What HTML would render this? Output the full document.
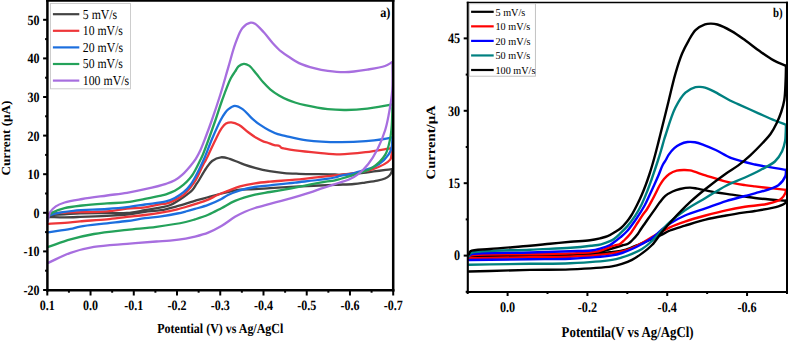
<!DOCTYPE html>
<html><head><meta charset="utf-8"><style>
html,body{margin:0;padding:0;background:#fff;width:788px;height:341px;overflow:hidden}
svg{display:block}
text{font-family:"Liberation Serif", serif;fill:#000;text-rendering:geometricPrecision}
</style></head><body>
<svg width="788" height="341" viewBox="0 0 788 341">
<rect width="788" height="341" fill="#fff"/>
<path d="M48.80,215.20 C54.07,214.90 59.37,214.62 64.60,214.30 C69.77,213.99 74.15,213.51 80.00,213.30 C87.74,213.02 98.67,213.15 107.00,213.10 C114.17,213.06 120.53,213.52 127.00,213.00 C133.18,212.51 139.17,211.18 145.00,210.20 C150.52,209.27 156.48,208.29 161.10,207.30 C164.64,206.55 167.14,206.35 170.40,205.00 C174.54,203.28 179.72,199.70 183.60,197.00 C186.91,194.69 190.23,192.34 192.40,190.00 C194.04,188.24 194.85,186.42 196.00,184.70 C197.08,183.09 197.89,181.93 199.10,180.00 C200.97,177.03 203.65,171.85 206.00,168.50 C208.00,165.65 209.61,162.87 212.10,161.00 C214.58,159.14 217.92,157.64 220.90,157.30 C223.79,156.97 226.45,157.88 229.70,158.80 C234.03,160.02 239.87,163.11 244.40,164.70 C248.19,166.03 251.17,166.89 255.00,167.90 C259.46,169.08 264.70,170.33 269.60,171.20 C274.47,172.06 279.39,172.67 284.30,173.10 C289.19,173.53 293.02,173.60 299.00,173.80 C308.36,174.11 328.49,174.24 335.00,174.50 C337.43,174.60 337.69,174.83 340.00,174.80 C345.27,174.72 357.41,173.44 365.90,172.50 C374.14,171.59 386.39,169.80 390.20,169.30 C391.37,169.15 391.73,169.10 392.50,169.00" fill="none" stroke="#434343" stroke-width="2.3" stroke-linejoin="round" stroke-linecap="round"/>
<path d="M392.50,169.00 C392.20,170.00 392.05,170.99 391.60,172.00 C391.09,173.15 390.48,174.47 389.50,175.50 C388.37,176.68 386.77,177.68 385.00,178.50 C382.86,179.49 380.26,180.07 377.40,180.70 C373.79,181.50 369.02,182.04 365.00,182.60 C361.20,183.13 358.10,183.65 353.90,184.00 C348.44,184.46 342.47,184.46 335.00,184.80 C324.14,185.29 306.77,186.07 295.00,186.70 C285.69,187.20 277.27,187.74 270.00,188.20 C264.36,188.56 260.00,188.95 255.00,189.20 C250.00,189.45 245.82,188.94 240.00,189.70 C231.67,190.79 215.78,195.07 210.00,196.60 C207.62,197.23 207.02,197.52 205.00,198.10 C201.94,198.98 197.58,200.10 193.40,201.30 C188.47,202.72 182.69,204.61 177.30,206.10 C171.92,207.58 166.53,209.25 161.10,210.20 C155.76,211.14 150.51,211.11 145.00,211.80 C139.16,212.53 133.17,213.84 127.00,214.50 C120.52,215.20 114.17,215.42 107.00,215.80 C98.68,216.24 87.75,216.64 80.00,216.90 C74.15,217.10 69.77,217.28 64.60,217.30 C59.37,217.32 54.07,217.10 48.80,217.00" fill="none" stroke="#434343" stroke-width="2.3" stroke-linejoin="round" stroke-linecap="round"/>
<path d="M47.30,214.00 C53.07,213.53 57.56,212.99 64.60,212.60 C75.61,211.99 95.51,212.22 107.00,211.30 C114.92,210.67 120.50,209.37 127.00,208.70 C133.15,208.06 139.19,208.12 145.00,207.30 C150.54,206.52 157.27,204.55 161.10,204.00 C163.19,203.70 164.17,204.03 166.00,203.60 C168.55,203.00 171.92,201.53 174.80,200.10 C177.80,198.61 180.97,196.93 183.60,194.80 C186.23,192.67 188.54,189.80 190.60,187.30 C192.46,185.04 193.81,183.32 195.50,180.50 C197.93,176.44 201.12,168.69 203.10,164.90 C204.26,162.68 205.11,161.40 206.00,159.70 C206.83,158.11 207.30,157.07 208.30,155.00 C210.22,151.02 214.10,142.39 216.60,137.50 C218.45,133.88 219.91,130.67 221.70,128.20 C223.08,126.29 224.34,124.58 226.00,123.60 C227.54,122.70 229.30,122.23 231.20,122.30 C233.57,122.39 236.52,123.50 239.10,124.90 C242.11,126.54 244.93,129.77 247.90,132.00 C250.79,134.17 253.88,136.43 256.70,138.10 C259.11,139.53 261.73,140.87 263.70,141.60 C265.04,142.10 265.84,142.08 267.20,142.50 C269.17,143.11 272.09,144.51 274.30,145.10 C276.14,145.59 278.28,145.37 279.50,146.00 C280.35,146.44 280.52,147.36 281.30,147.80 C282.26,148.34 283.45,148.38 285.00,148.70 C287.55,149.22 291.09,149.85 295.20,150.40 C301.41,151.23 311.05,152.14 318.70,152.80 C325.97,153.43 332.56,154.35 340.00,154.30 C348.21,154.24 357.42,153.12 365.90,152.10 C374.15,151.11 386.39,148.85 390.20,148.30 C391.37,148.13 391.73,148.10 392.50,148.00" fill="none" stroke="#ee3639" stroke-width="2.3" stroke-linejoin="round" stroke-linecap="round"/>
<path d="M392.50,148.00 C392.17,150.33 391.94,152.92 391.50,155.00 C391.14,156.71 391.43,158.05 390.20,159.60 C387.66,162.78 379.45,166.86 372.40,169.30 C363.42,172.41 346.10,173.98 340.00,174.80 C337.61,175.12 337.46,175.04 335.00,175.30 C328.03,176.03 306.78,178.60 295.00,179.70 C285.70,180.56 277.27,180.91 270.00,181.60 C264.36,182.13 259.98,182.50 255.00,183.30 C249.98,184.10 244.68,185.07 240.00,186.40 C235.73,187.62 231.87,189.33 228.00,190.80 C224.35,192.19 220.78,193.49 217.40,195.00 C214.19,196.43 211.59,198.17 208.20,199.60 C204.24,201.27 199.03,202.89 195.00,204.20 C191.64,205.29 188.73,206.13 185.70,207.00 C182.83,207.82 180.57,208.52 177.30,209.30 C172.79,210.37 166.50,211.65 161.10,212.60 C155.74,213.55 150.52,214.30 145.00,215.00 C139.17,215.74 133.16,216.21 127.00,216.90 C120.51,217.63 114.17,218.60 107.00,219.30 C98.68,220.11 86.70,220.70 80.00,221.30 C76.02,221.66 74.34,221.96 70.50,222.30 C64.63,222.82 55.63,223.37 48.20,223.90" fill="none" stroke="#ee3639" stroke-width="2.3" stroke-linejoin="round" stroke-linecap="round"/>
<path d="M47.80,218.00 C48.13,217.33 48.13,216.60 48.80,216.00 C50.02,214.91 52.89,214.15 55.80,213.40 C60.29,212.25 66.57,211.49 73.40,210.80 C82.79,209.86 97.25,209.70 107.00,209.00 C114.53,208.46 120.52,207.98 127.00,207.20 C133.17,206.46 138.77,205.43 145.00,204.50 C151.73,203.50 160.56,202.86 166.00,201.40 C169.63,200.42 171.94,199.38 174.80,197.90 C177.81,196.34 180.96,194.42 183.60,192.20 C186.22,190.01 188.64,187.28 190.60,184.70 C192.38,182.36 193.56,180.06 195.00,177.50 C196.57,174.70 198.05,171.70 199.60,168.50 C201.34,164.92 203.07,161.29 204.90,157.00 C207.17,151.70 209.43,145.05 212.00,139.00 C214.68,132.72 218.18,124.73 220.70,120.00 C222.28,117.04 223.55,114.94 225.00,113.00 C226.16,111.45 227.04,110.23 228.50,109.10 C230.18,107.80 232.48,106.00 234.70,105.90 C237.15,105.79 240.06,107.42 242.60,109.10 C245.67,111.13 248.39,115.21 251.40,117.90 C254.26,120.46 257.20,122.81 260.20,124.90 C263.07,126.89 266.02,128.65 269.00,130.20 C271.89,131.70 274.97,133.15 277.80,134.10 C280.28,134.93 281.94,135.12 285.00,135.80 C290.32,136.99 298.80,139.34 306.90,140.40 C316.75,141.70 329.64,142.14 340.00,142.20 C349.16,142.25 357.42,141.84 365.90,141.10 C374.15,140.38 386.42,138.87 390.20,137.90 C391.40,137.59 391.73,137.30 392.50,137.00" fill="none" stroke="#1c6fde" stroke-width="2.3" stroke-linejoin="round" stroke-linecap="round"/>
<path d="M392.50,137.00 C392.17,140.67 392.33,144.84 391.50,148.00 C390.83,150.57 390.08,152.41 388.50,154.70 C386.34,157.83 383.09,161.68 378.80,164.40 C373.12,168.00 363.17,170.55 356.20,172.50 C350.41,174.12 343.83,174.76 340.00,175.80 C337.83,176.39 337.51,176.92 335.00,177.50 C328.08,179.10 306.78,181.21 295.00,182.60 C285.70,183.70 277.27,184.50 270.00,185.30 C264.36,185.92 259.98,186.16 255.00,187.00 C249.98,187.85 244.67,188.98 240.00,190.40 C235.73,191.70 231.35,193.36 228.00,195.00 C225.41,196.27 224.03,197.62 221.40,199.00 C217.80,200.88 212.65,203.24 208.20,204.90 C203.85,206.52 199.02,207.73 195.00,208.90 C191.64,209.88 188.73,210.72 185.70,211.50 C182.84,212.24 180.57,212.83 177.30,213.50 C172.79,214.43 166.50,215.51 161.10,216.30 C155.74,217.08 150.51,217.45 145.00,218.20 C139.16,219.00 133.17,220.17 127.00,221.00 C120.52,221.88 114.16,222.45 107.00,223.30 C98.67,224.29 86.68,225.39 80.00,226.60 C76.00,227.33 74.35,228.13 70.50,228.90 C64.65,230.07 55.63,231.23 48.20,232.40" fill="none" stroke="#1c6fde" stroke-width="2.3" stroke-linejoin="round" stroke-linecap="round"/>
<path d="M47.80,218.00 C48.37,216.83 48.71,215.41 49.50,214.50 C50.24,213.65 50.98,213.27 52.30,212.60 C54.90,211.28 60.07,209.35 64.60,208.20 C69.88,206.86 75.82,206.26 82.20,205.50 C89.75,204.60 99.17,203.97 107.00,203.40 C114.02,202.89 120.53,202.98 127.00,202.20 C133.18,201.45 139.17,200.03 145.00,198.90 C150.52,197.83 157.29,196.49 161.10,195.60 C163.21,195.10 164.15,194.91 166.00,194.30 C168.53,193.47 171.95,192.33 174.80,190.80 C177.83,189.18 181.02,186.87 183.60,184.70 C185.92,182.74 188.12,180.32 189.70,178.50 C190.83,177.21 191.53,176.29 192.40,175.00 C193.37,173.55 194.19,172.06 195.20,170.20 C196.54,167.73 198.27,164.10 199.60,161.40 C200.73,159.10 201.41,158.03 202.70,155.00 C205.64,148.05 211.97,130.07 215.50,120.00 C218.15,112.43 219.73,106.77 222.20,100.00 C224.80,92.88 228.22,83.36 230.80,78.30 C232.30,75.37 233.66,73.77 235.00,71.70 C236.21,69.83 236.99,67.72 238.50,66.40 C239.95,65.12 242.01,63.92 243.80,63.80 C245.54,63.69 247.36,64.44 249.10,65.60 C251.49,67.19 253.79,70.77 256.10,73.50 C258.49,76.33 260.77,79.59 263.20,82.30 C265.48,84.83 267.63,87.14 270.20,89.30 C272.88,91.55 276.00,93.71 279.00,95.50 C281.87,97.22 284.98,98.69 287.80,99.90 C290.29,100.97 292.38,101.68 295.00,102.50 C298.04,103.46 300.97,104.30 305.00,105.20 C311.03,106.54 320.58,108.41 327.80,109.20 C334.24,109.90 339.86,110.07 346.20,110.00 C352.99,109.92 360.29,109.40 367.30,108.60 C374.35,107.80 384.11,106.17 388.40,105.20 C390.32,104.77 391.13,104.40 392.50,104.00" fill="none" stroke="#24a25a" stroke-width="2.3" stroke-linejoin="round" stroke-linecap="round"/>
<path d="M392.50,104.00 C392.27,111.00 392.27,118.78 391.80,125.00 C391.42,130.00 391.17,133.84 390.20,138.50 C389.11,143.70 388.16,149.90 385.30,154.70 C382.33,159.69 377.33,164.45 372.40,167.70 C367.60,170.87 361.64,172.21 356.20,174.10 C350.84,175.97 343.86,177.91 340.00,179.00 C337.86,179.60 337.13,179.86 335.00,180.30 C331.35,181.05 324.99,181.72 320.00,182.60 C314.99,183.48 310.00,184.62 305.00,185.60 C300.00,186.58 295.36,187.51 290.00,188.50 C283.82,189.64 276.19,190.92 270.00,192.00 C264.64,192.93 260.31,193.31 255.00,194.60 C248.76,196.12 240.92,198.40 235.00,200.90 C229.92,203.04 225.92,205.86 221.40,208.20 C216.98,210.49 212.66,212.92 208.20,214.80 C203.86,216.63 199.03,218.13 195.00,219.40 C191.65,220.45 189.70,221.12 185.70,222.00 C178.68,223.55 166.11,225.50 156.30,226.80 C146.54,228.09 137.06,228.65 127.00,229.80 C116.30,231.03 103.94,232.21 93.90,234.00 C85.38,235.52 78.15,237.24 70.50,239.40 C62.92,241.54 55.63,244.40 48.20,246.90" fill="none" stroke="#24a25a" stroke-width="2.3" stroke-linejoin="round" stroke-linecap="round"/>
<path d="M47.80,221.00 C48.20,219.17 48.50,217.15 49.00,215.50 C49.43,214.10 49.66,212.98 50.50,211.70 C51.64,209.96 53.65,207.88 55.80,206.40 C58.24,204.73 61.09,203.61 64.60,202.50 C69.39,200.98 75.82,200.08 82.20,199.00 C89.74,197.72 99.18,196.58 107.00,195.50 C114.02,194.53 120.53,193.88 127.00,192.80 C133.17,191.77 138.79,190.62 145.00,189.20 C151.75,187.66 160.54,185.58 166.00,183.80 C169.61,182.62 172.07,181.83 174.80,180.30 C177.54,178.77 179.91,176.86 182.40,174.60 C185.25,172.01 188.42,168.26 190.80,165.40 C192.74,163.07 194.25,161.23 195.80,158.80 C197.50,156.14 198.99,153.24 200.50,150.00 C202.25,146.24 203.77,142.03 205.50,137.50 C207.54,132.17 209.68,126.37 211.90,120.00 C214.54,112.43 217.51,103.62 220.20,95.00 C223.05,85.86 225.84,75.60 228.50,66.60 C230.92,58.42 232.91,50.10 235.50,43.20 C237.65,37.48 239.45,31.40 242.50,27.90 C244.82,25.24 248.33,23.08 250.70,22.70 C252.30,22.45 253.44,22.93 255.00,23.80 C257.59,25.24 260.95,29.23 263.80,32.30 C266.83,35.56 269.59,39.60 272.60,42.90 C275.46,46.04 278.35,49.15 281.40,51.70 C284.23,54.06 287.24,55.88 290.20,57.80 C293.10,59.68 295.53,61.50 299.00,63.10 C303.45,65.15 309.92,67.07 315.00,68.40 C319.47,69.57 323.21,70.28 327.80,70.90 C333.07,71.61 338.82,72.32 344.90,72.20 C351.87,72.06 360.29,70.72 367.30,69.60 C373.57,68.60 380.44,67.64 385.00,66.00 C388.13,64.87 390.00,63.33 392.50,62.00" fill="none" stroke="#a76edf" stroke-width="2.3" stroke-linejoin="round" stroke-linecap="round"/>
<path d="M392.50,62.00 C392.43,71.33 393.00,80.87 392.30,90.00 C391.62,98.83 389.89,108.59 388.50,115.90 C387.47,121.33 386.77,125.01 385.20,130.00 C383.33,135.93 380.57,143.13 377.60,149.00 C374.82,154.51 371.53,159.97 368.10,164.30 C365.13,168.04 361.95,171.20 358.60,173.80 C355.55,176.17 352.23,178.02 349.00,179.50 C346.02,180.86 343.00,181.53 340.00,182.50 C337.03,183.46 334.17,184.31 331.10,185.30 C327.79,186.37 324.23,187.54 320.80,188.70 C317.36,189.87 313.96,191.15 310.50,192.30 C307.03,193.45 303.82,194.45 300.00,195.60 C295.45,196.97 290.01,198.52 285.00,199.90 C280.01,201.28 275.00,202.55 270.00,203.90 C265.00,205.25 259.47,206.57 255.00,208.00 C251.30,209.19 248.29,210.26 245.00,211.70 C241.62,213.18 238.52,214.72 235.00,216.80 C230.74,219.31 225.99,223.32 221.40,226.00 C217.05,228.54 212.68,230.82 208.20,232.60 C203.87,234.32 199.04,235.56 195.00,236.60 C191.65,237.47 189.22,238.00 185.70,238.60 C181.16,239.38 175.06,240.11 170.00,240.60 C165.29,241.05 161.72,241.11 156.30,241.50 C148.37,242.07 137.06,242.93 127.00,243.80 C116.30,244.72 103.92,245.18 93.90,246.90 C85.36,248.37 78.09,250.15 70.50,252.80 C62.85,255.47 55.63,259.53 48.20,262.90" fill="none" stroke="#a76edf" stroke-width="2.3" stroke-linejoin="round" stroke-linecap="round"/>
<line x1="46.2" y1="0.9" x2="394.4" y2="0.9" stroke="#000" stroke-width="1.8"/>
<line x1="47.4" y1="0" x2="47.4" y2="291.5" stroke="#000" stroke-width="2.5"/>
<line x1="46.2" y1="290.3" x2="394.4" y2="290.3" stroke="#000" stroke-width="2.5"/>
<line x1="393.2" y1="0" x2="393.2" y2="291.5" stroke="#000" stroke-width="2.5"/>
<line x1="43.099999999999994" y1="290.00" x2="47.3" y2="290.00" stroke="#000" stroke-width="2.0"/>
<text x="39.5" y="295.00" font-size="14.2" font-weight="bold" text-anchor="end" transform="translate(39.5,0) scale(0.85,1) translate(-39.5,0)">-20</text>
<line x1="45.099999999999994" y1="270.70" x2="47.3" y2="270.70" stroke="#000" stroke-width="2.0"/>
<line x1="43.099999999999994" y1="251.40" x2="47.3" y2="251.40" stroke="#000" stroke-width="2.0"/>
<text x="39.5" y="256.40" font-size="14.2" font-weight="bold" text-anchor="end" transform="translate(39.5,0) scale(0.85,1) translate(-39.5,0)">-10</text>
<line x1="45.099999999999994" y1="232.10" x2="47.3" y2="232.10" stroke="#000" stroke-width="2.0"/>
<line x1="43.099999999999994" y1="212.80" x2="47.3" y2="212.80" stroke="#000" stroke-width="2.0"/>
<text x="39.5" y="217.80" font-size="14.2" font-weight="bold" text-anchor="end" transform="translate(39.5,0) scale(0.85,1) translate(-39.5,0)">0</text>
<line x1="45.099999999999994" y1="193.50" x2="47.3" y2="193.50" stroke="#000" stroke-width="2.0"/>
<line x1="43.099999999999994" y1="174.20" x2="47.3" y2="174.20" stroke="#000" stroke-width="2.0"/>
<text x="39.5" y="179.20" font-size="14.2" font-weight="bold" text-anchor="end" transform="translate(39.5,0) scale(0.85,1) translate(-39.5,0)">10</text>
<line x1="45.099999999999994" y1="154.90" x2="47.3" y2="154.90" stroke="#000" stroke-width="2.0"/>
<line x1="43.099999999999994" y1="135.60" x2="47.3" y2="135.60" stroke="#000" stroke-width="2.0"/>
<text x="39.5" y="140.60" font-size="14.2" font-weight="bold" text-anchor="end" transform="translate(39.5,0) scale(0.85,1) translate(-39.5,0)">20</text>
<line x1="45.099999999999994" y1="116.30" x2="47.3" y2="116.30" stroke="#000" stroke-width="2.0"/>
<line x1="43.099999999999994" y1="97.00" x2="47.3" y2="97.00" stroke="#000" stroke-width="2.0"/>
<text x="39.5" y="102.00" font-size="14.2" font-weight="bold" text-anchor="end" transform="translate(39.5,0) scale(0.85,1) translate(-39.5,0)">30</text>
<line x1="45.099999999999994" y1="77.70" x2="47.3" y2="77.70" stroke="#000" stroke-width="2.0"/>
<line x1="43.099999999999994" y1="58.40" x2="47.3" y2="58.40" stroke="#000" stroke-width="2.0"/>
<text x="39.5" y="63.40" font-size="14.2" font-weight="bold" text-anchor="end" transform="translate(39.5,0) scale(0.85,1) translate(-39.5,0)">40</text>
<line x1="45.099999999999994" y1="39.10" x2="47.3" y2="39.10" stroke="#000" stroke-width="2.0"/>
<line x1="43.099999999999994" y1="19.80" x2="47.3" y2="19.80" stroke="#000" stroke-width="2.0"/>
<text x="39.5" y="24.80" font-size="14.2" font-weight="bold" text-anchor="end" transform="translate(39.5,0) scale(0.85,1) translate(-39.5,0)">50</text>
<line x1="47.30" y1="290.3" x2="47.30" y2="295.5" stroke="#000" stroke-width="2.0"/>
<text x="47.30" y="309.8" font-size="14.2" font-weight="bold" text-anchor="middle" transform="translate(47.30,0) scale(0.85,1) translate(-47.30,0)">0.1</text>
<line x1="68.92" y1="290.3" x2="68.92" y2="292.7" stroke="#000" stroke-width="2.0"/>
<line x1="90.54" y1="290.3" x2="90.54" y2="295.5" stroke="#000" stroke-width="2.0"/>
<text x="90.54" y="309.8" font-size="14.2" font-weight="bold" text-anchor="middle" transform="translate(90.54,0) scale(0.85,1) translate(-90.54,0)">0.0</text>
<line x1="112.16" y1="290.3" x2="112.16" y2="292.7" stroke="#000" stroke-width="2.0"/>
<line x1="133.77" y1="290.3" x2="133.77" y2="295.5" stroke="#000" stroke-width="2.0"/>
<text x="133.77" y="309.8" font-size="14.2" font-weight="bold" text-anchor="middle" transform="translate(133.77,0) scale(0.85,1) translate(-133.77,0)">-0.1</text>
<line x1="155.39" y1="290.3" x2="155.39" y2="292.7" stroke="#000" stroke-width="2.0"/>
<line x1="177.01" y1="290.3" x2="177.01" y2="295.5" stroke="#000" stroke-width="2.0"/>
<text x="177.01" y="309.8" font-size="14.2" font-weight="bold" text-anchor="middle" transform="translate(177.01,0) scale(0.85,1) translate(-177.01,0)">-0.2</text>
<line x1="198.63" y1="290.3" x2="198.63" y2="292.7" stroke="#000" stroke-width="2.0"/>
<line x1="220.25" y1="290.3" x2="220.25" y2="295.5" stroke="#000" stroke-width="2.0"/>
<text x="220.25" y="309.8" font-size="14.2" font-weight="bold" text-anchor="middle" transform="translate(220.25,0) scale(0.85,1) translate(-220.25,0)">-0.3</text>
<line x1="241.87" y1="290.3" x2="241.87" y2="292.7" stroke="#000" stroke-width="2.0"/>
<line x1="263.49" y1="290.3" x2="263.49" y2="295.5" stroke="#000" stroke-width="2.0"/>
<text x="263.49" y="309.8" font-size="14.2" font-weight="bold" text-anchor="middle" transform="translate(263.49,0) scale(0.85,1) translate(-263.49,0)">-0.4</text>
<line x1="285.11" y1="290.3" x2="285.11" y2="292.7" stroke="#000" stroke-width="2.0"/>
<line x1="306.73" y1="290.3" x2="306.73" y2="295.5" stroke="#000" stroke-width="2.0"/>
<text x="306.73" y="309.8" font-size="14.2" font-weight="bold" text-anchor="middle" transform="translate(306.73,0) scale(0.85,1) translate(-306.73,0)">-0.5</text>
<line x1="328.34" y1="290.3" x2="328.34" y2="292.7" stroke="#000" stroke-width="2.0"/>
<line x1="349.96" y1="290.3" x2="349.96" y2="295.5" stroke="#000" stroke-width="2.0"/>
<text x="349.96" y="309.8" font-size="14.2" font-weight="bold" text-anchor="middle" transform="translate(349.96,0) scale(0.85,1) translate(-349.96,0)">-0.6</text>
<line x1="371.58" y1="290.3" x2="371.58" y2="292.7" stroke="#000" stroke-width="2.0"/>
<line x1="393.20" y1="290.3" x2="393.20" y2="295.5" stroke="#000" stroke-width="2.0"/>
<text x="393.20" y="309.8" font-size="14.2" font-weight="bold" text-anchor="middle" transform="translate(393.20,0) scale(0.85,1) translate(-393.20,0)">-0.7</text>
<rect x="50.5" y="3.5" width="80.0" height="85.3" fill="#fff" stroke="#c8c8c8" stroke-width="0.9"/>
<line x1="52.9" y1="14.20" x2="79.3" y2="14.20" stroke="#434343" stroke-width="2.2"/>
<text x="82.8" y="18.60" font-size="13.6" font-weight="normal" text-anchor="start" textLength="34.4" lengthAdjust="spacingAndGlyphs" >5 mV/s</text>
<line x1="52.9" y1="30.80" x2="79.3" y2="30.80" stroke="#ee3639" stroke-width="2.2"/>
<text x="82.8" y="35.20" font-size="13.6" font-weight="normal" text-anchor="start" textLength="40.0" lengthAdjust="spacingAndGlyphs" >10 mV/s</text>
<line x1="52.9" y1="47.40" x2="79.3" y2="47.40" stroke="#1c6fde" stroke-width="2.2"/>
<text x="82.8" y="51.80" font-size="13.6" font-weight="normal" text-anchor="start" textLength="40.2" lengthAdjust="spacingAndGlyphs" >20 mV/s</text>
<line x1="52.9" y1="64.00" x2="79.3" y2="64.00" stroke="#24a25a" stroke-width="2.2"/>
<text x="82.8" y="68.40" font-size="13.6" font-weight="normal" text-anchor="start" textLength="40.0" lengthAdjust="spacingAndGlyphs" >50 mV/s</text>
<line x1="52.9" y1="80.60" x2="79.3" y2="80.60" stroke="#a76edf" stroke-width="2.2"/>
<text x="82.8" y="85.00" font-size="13.6" font-weight="normal" text-anchor="start" textLength="46.3" lengthAdjust="spacingAndGlyphs" >100 mV/s</text>
<text x="380.2" y="17.3" font-size="14" font-weight="bold" text-anchor="start" textLength="10.2" lengthAdjust="spacingAndGlyphs" >a)</text>
<text x="157.3" y="332.7" font-size="13.8" font-weight="bold" text-anchor="start" textLength="126" lengthAdjust="spacingAndGlyphs" >Potential (V) vs Ag/AgCl</text>
<g transform="translate(10.3,138.0) rotate(-90)"><text x="0" y="0" font-size="12.3" font-weight="bold" text-anchor="middle" textLength="75" lengthAdjust="spacingAndGlyphs">Current (μA)</text></g>
<path d="M468.80,257.50 C469.37,257.17 469.46,256.79 470.50,256.50 C476.19,254.89 512.13,255.55 530.00,255.30 C544.65,255.10 558.10,255.50 570.00,255.00 C579.60,254.60 588.44,254.34 596.00,253.00 C602.04,251.93 607.30,249.87 612.00,248.50 C615.73,247.42 619.09,246.35 622.00,245.50 C624.25,244.84 626.28,244.70 628.00,243.80 C629.57,242.98 630.60,241.85 632.00,240.50 C633.82,238.75 636.22,236.09 637.80,234.00 C639.11,232.28 639.86,230.72 641.00,229.00 C642.24,227.13 643.59,225.23 645.00,223.20 C646.57,220.95 648.33,218.46 650.00,216.10 C651.66,213.76 653.34,211.44 655.00,209.10 C656.67,206.74 658.25,204.23 660.00,202.00 C661.69,199.84 663.24,197.63 665.30,195.90 C667.42,194.12 670.09,192.66 672.60,191.50 C675.00,190.39 677.32,189.64 680.00,189.00 C683.05,188.28 686.93,187.60 690.00,187.60 C692.62,187.60 694.32,188.10 697.30,188.60 C702.07,189.40 709.87,191.27 715.80,192.30 C721.24,193.24 726.46,193.86 731.50,194.60 C736.17,195.29 740.85,196.00 745.00,196.60 C748.55,197.11 751.25,197.56 754.90,198.00 C759.40,198.54 764.89,199.04 770.00,199.50 C775.25,199.97 780.67,200.37 786.00,200.80" fill="none" stroke="#000" stroke-width="2.4" stroke-linejoin="round" stroke-linecap="round"/>
<path d="M786.00,200.80 C785.80,201.53 785.98,202.31 785.40,203.00 C784.34,204.26 781.50,205.28 778.40,206.30 C772.94,208.10 761.08,209.95 754.90,211.00 C750.91,211.68 748.83,211.82 745.00,212.40 C739.71,213.21 732.53,214.33 726.10,215.50 C719.37,216.72 712.32,217.91 705.50,219.60 C698.62,221.30 691.29,223.76 685.00,225.70 C679.60,227.37 674.33,228.72 670.00,230.50 C666.49,231.95 664.02,233.70 660.80,235.20 C657.37,236.80 653.53,238.31 650.00,239.80 C646.60,241.24 643.62,242.52 640.00,244.00 C635.73,245.75 630.90,248.22 626.00,249.60 C620.92,251.03 615.17,251.59 610.00,252.30 C605.19,252.96 601.39,253.34 596.00,253.80 C588.67,254.43 579.60,255.15 570.00,255.50 C558.10,255.93 544.73,255.62 530.00,255.80 C511.80,256.02 489.33,256.47 469.00,256.80" fill="none" stroke="#000" stroke-width="2.4" stroke-linejoin="round" stroke-linecap="round"/>
<path d="M468.80,257.00 C469.37,256.57 469.42,256.08 470.50,255.70 C476.17,253.70 512.13,254.71 530.00,254.30 C544.65,253.96 558.10,253.95 570.00,253.40 C579.60,252.96 588.74,253.02 596.00,251.60 C601.46,250.53 606.51,248.17 610.00,247.00 C612.09,246.30 613.37,245.78 615.00,245.30 C616.53,244.85 618.04,244.94 619.50,244.20 C621.23,243.32 622.85,241.56 624.50,240.00 C626.31,238.29 628.03,236.64 629.90,234.30 C632.41,231.16 635.45,226.06 637.80,222.50 C639.72,219.58 641.36,216.83 643.00,214.50 C644.33,212.61 645.49,211.48 646.80,209.50 C648.53,206.88 650.46,203.23 652.20,200.00 C653.96,196.73 655.93,192.68 657.30,190.00 C658.22,188.20 658.65,187.11 659.60,185.50 C660.78,183.50 662.35,180.96 664.00,179.00 C665.60,177.10 667.25,175.28 669.30,173.90 C671.45,172.45 674.19,171.24 676.70,170.60 C679.09,169.99 681.69,170.02 684.00,170.00 C686.10,169.98 687.57,169.93 690.00,170.40 C694.00,171.17 699.96,173.67 705.50,175.40 C711.87,177.39 719.34,179.96 726.10,181.60 C732.49,183.15 739.70,184.26 745.00,185.10 C748.82,185.70 750.68,185.89 754.90,186.40 C762.38,187.31 775.63,188.73 786.00,189.90" fill="none" stroke="#f00" stroke-width="2.4" stroke-linejoin="round" stroke-linecap="round"/>
<path d="M786.00,189.90 C785.80,190.93 785.91,191.85 785.40,193.00 C784.60,194.81 783.04,197.60 780.70,199.30 C777.49,201.63 771.94,202.79 766.70,204.00 C760.32,205.47 751.97,205.71 745.00,206.80 C738.47,207.83 732.51,208.90 726.10,210.30 C719.36,211.77 712.34,213.62 705.50,215.50 C698.64,217.39 691.26,219.48 685.00,221.60 C679.57,223.44 674.44,225.31 670.00,227.30 C666.28,228.97 663.13,230.80 660.00,232.50 C657.17,234.03 654.80,235.37 652.00,237.00 C648.84,238.84 645.37,241.15 642.00,243.00 C638.70,244.81 635.38,246.57 632.00,248.00 C628.71,249.39 625.37,250.60 622.00,251.50 C618.70,252.39 615.73,252.82 612.00,253.40 C607.30,254.12 601.99,254.78 596.00,255.30 C588.39,255.96 579.60,256.38 570.00,256.70 C558.10,257.09 544.73,256.98 530.00,257.20 C511.80,257.48 489.33,257.93 469.00,258.30" fill="none" stroke="#f00" stroke-width="2.4" stroke-linejoin="round" stroke-linecap="round"/>
<path d="M468.80,256.50 C469.37,255.87 469.33,255.15 470.50,254.60 C476.17,251.94 512.13,253.11 530.00,252.50 C544.65,252.00 558.81,251.57 570.00,251.20 C578.09,250.93 585.38,251.16 590.90,250.50 C594.58,250.06 596.93,249.47 600.00,248.60 C603.29,247.67 607.48,246.28 610.00,245.00 C611.70,244.14 612.53,243.37 614.00,242.30 C615.93,240.90 618.35,239.03 620.50,237.20 C622.76,235.28 624.91,233.55 627.20,231.00 C630.20,227.66 633.59,222.77 636.50,218.50 C639.39,214.27 642.32,209.66 644.60,205.50 C646.59,201.87 647.98,198.46 649.60,195.00 C651.18,191.63 652.70,188.34 654.20,185.00 C655.70,181.67 657.18,178.34 658.60,175.00 C660.01,171.68 661.31,167.72 662.70,165.00 C663.72,163.00 664.82,161.70 665.80,160.00 C666.78,158.30 667.39,156.58 668.60,154.80 C670.08,152.63 672.27,149.91 674.30,148.10 C676.10,146.50 677.89,145.30 680.00,144.30 C682.26,143.23 684.97,142.33 687.50,142.00 C689.97,141.68 692.42,141.85 695.00,142.30 C697.90,142.80 700.83,143.95 704.00,145.10 C707.67,146.44 711.55,148.06 715.70,150.00 C720.62,152.30 725.58,155.90 731.50,158.20 C738.41,160.89 746.50,162.64 754.90,164.50 C764.49,166.62 775.63,168.10 786.00,169.90" fill="none" stroke="#00f" stroke-width="2.4" stroke-linejoin="round" stroke-linecap="round"/>
<path d="M786.00,169.90 C785.80,171.93 786.23,173.88 785.40,176.00 C784.26,178.91 781.95,182.62 778.40,185.20 C773.19,188.98 761.10,191.51 754.90,193.40 C750.93,194.61 748.83,194.98 745.00,196.00 C739.71,197.41 732.50,199.12 726.10,201.10 C719.34,203.19 712.36,205.90 705.50,208.30 C698.66,210.70 691.21,212.77 685.00,215.50 C679.51,217.91 674.14,220.87 670.00,223.50 C666.83,225.52 664.78,227.28 662.00,229.50 C658.82,232.04 655.44,235.53 652.00,238.00 C648.76,240.33 645.37,242.15 642.00,244.00 C638.70,245.81 635.37,247.49 632.00,249.00 C628.70,250.48 625.37,251.93 622.00,253.00 C618.70,254.05 616.52,254.68 612.00,255.40 C602.85,256.85 583.84,258.07 570.00,258.70 C556.51,259.31 544.73,259.01 530.00,259.20 C511.80,259.43 489.33,259.73 469.00,260.00" fill="none" stroke="#00f" stroke-width="2.4" stroke-linejoin="round" stroke-linecap="round"/>
<path d="M468.80,256.00 C469.37,255.10 469.18,254.08 470.50,253.30 C476.22,249.92 512.05,250.66 530.00,249.70 C544.82,248.90 559.40,248.61 570.60,247.80 C578.54,247.22 585.29,246.49 590.90,245.80 C594.89,245.31 597.85,245.10 601.10,244.30 C604.21,243.54 607.65,242.25 610.00,241.20 C611.63,240.47 612.57,240.01 614.00,239.00 C615.98,237.60 618.35,235.25 620.50,233.20 C622.75,231.06 624.96,229.00 627.20,226.40 C629.83,223.35 632.69,219.58 635.10,215.90 C637.53,212.18 639.66,208.35 641.70,204.20 C643.88,199.75 645.98,194.34 647.70,190.00 C649.13,186.39 650.21,183.34 651.40,180.00 C652.58,176.67 653.68,173.34 654.80,170.00 C655.92,166.67 657.03,163.34 658.10,160.00 C659.17,156.67 660.21,153.34 661.20,150.00 C662.18,146.67 663.17,142.76 664.00,140.00 C664.59,138.04 664.81,137.32 665.60,135.00 C667.44,129.55 671.51,115.37 675.30,107.80 C678.31,101.79 681.54,96.11 685.40,92.60 C688.46,89.82 692.73,87.99 695.50,87.20 C697.24,86.70 698.46,86.84 700.00,86.90 C701.63,86.96 703.16,87.09 705.00,87.60 C707.46,88.28 710.11,89.53 713.30,91.10 C717.96,93.38 725.40,98.18 730.00,100.50 C733.11,102.07 734.72,102.62 738.00,104.10 C743.25,106.46 752.04,110.43 758.50,113.30 C764.27,115.86 769.94,118.45 774.90,120.50 C778.94,122.17 782.30,123.37 786.00,124.80" fill="none" stroke="#008080" stroke-width="2.4" stroke-linejoin="round" stroke-linecap="round"/>
<path d="M786.00,125.30 C785.87,128.53 785.78,132.15 785.60,135.00 C785.46,137.24 785.52,138.75 785.10,141.00 C784.54,144.00 783.69,148.00 782.10,151.30 C780.39,154.86 778.11,158.54 774.90,161.50 C771.18,164.92 765.44,167.35 760.50,170.00 C755.48,172.69 750.45,175.00 745.00,177.50 C739.04,180.23 732.43,182.45 726.10,185.70 C719.27,189.20 712.36,193.90 705.50,198.00 C698.66,202.10 691.18,206.06 685.00,210.30 C679.48,214.09 674.13,218.35 670.00,222.00 C666.82,224.82 664.78,227.09 662.00,230.00 C658.81,233.34 655.47,237.74 652.00,241.00 C648.78,244.02 645.46,246.81 642.00,249.00 C638.78,251.05 635.38,252.49 632.00,253.90 C628.71,255.28 625.36,256.40 622.00,257.40 C618.69,258.39 616.52,259.16 612.00,259.90 C602.86,261.40 583.84,262.65 570.00,263.30 C556.51,263.93 544.73,263.60 530.00,263.80 C511.80,264.05 489.33,264.40 469.00,264.70" fill="none" stroke="#008080" stroke-width="2.4" stroke-linejoin="round" stroke-linecap="round"/>
<path d="M468.80,254.50 C469.37,253.43 469.26,252.15 470.50,251.30 C473.38,249.33 482.34,249.76 490.00,249.00 C500.96,247.92 518.96,246.79 530.00,245.80 C537.81,245.10 543.28,244.46 550.00,243.80 C556.82,243.13 563.83,242.41 570.60,241.80 C577.16,241.21 584.61,240.93 590.00,240.20 C593.90,239.67 596.91,239.02 600.00,238.30 C602.72,237.67 605.14,237.22 607.60,236.20 C610.15,235.14 612.69,233.43 615.00,232.00 C617.13,230.69 619.09,229.63 621.00,228.00 C623.11,226.20 625.20,223.73 627.00,221.50 C628.71,219.39 630.08,217.45 631.60,215.00 C633.42,212.07 635.31,208.36 637.00,205.00 C638.67,201.69 640.24,198.35 641.70,195.00 C643.14,191.69 644.45,188.35 645.70,185.00 C646.94,181.68 648.10,178.34 649.20,175.00 C650.30,171.68 651.31,168.34 652.30,165.00 C653.28,161.67 654.20,158.34 655.10,155.00 C656.00,151.67 656.85,148.34 657.70,145.00 C658.55,141.67 659.13,139.31 660.20,135.00 C662.16,127.11 665.87,112.11 668.50,101.50 C670.88,91.91 672.87,82.51 675.30,74.10 C677.41,66.78 679.52,59.80 682.00,53.80 C684.09,48.76 686.42,44.42 688.80,40.30 C690.94,36.60 692.71,32.80 695.50,30.10 C698.16,27.52 702.09,25.30 705.00,24.30 C707.14,23.56 708.97,23.58 711.00,23.60 C713.10,23.62 714.92,23.76 717.40,24.50 C721.26,25.65 726.91,28.50 731.50,31.10 C736.28,33.80 740.87,37.21 745.50,40.50 C750.24,43.87 754.85,47.75 759.60,51.10 C764.25,54.38 769.05,57.87 773.70,60.40 C777.84,62.65 781.90,64.00 786.00,65.80" fill="none" stroke="#000" stroke-width="2.4" stroke-linejoin="round" stroke-linecap="round"/>
<path d="M786.00,65.80 C785.87,70.87 785.85,75.65 785.60,81.00 C785.32,86.98 785.20,94.43 784.30,100.00 C783.57,104.50 782.50,108.09 781.20,112.00 C779.90,115.92 778.30,119.81 776.50,123.50 C774.73,127.14 772.82,130.74 770.50,134.00 C768.19,137.24 765.58,139.82 762.60,143.00 C759.01,146.84 754.49,151.47 750.30,155.30 C746.28,158.98 742.15,162.50 738.00,165.60 C734.08,168.53 730.56,170.35 726.10,173.50 C720.11,177.73 711.81,183.95 705.50,189.00 C699.89,193.49 695.25,197.31 690.00,202.20 C684.11,207.69 677.05,215.04 672.00,220.50 C668.11,224.71 665.27,228.00 662.00,232.00 C658.60,236.15 655.55,241.30 652.00,245.00 C648.84,248.30 645.41,250.87 642.00,253.40 C638.74,255.82 635.42,258.12 632.00,259.90 C628.75,261.59 625.37,262.81 622.00,263.90 C618.70,264.97 616.52,265.68 612.00,266.40 C602.86,267.86 583.84,268.82 570.00,269.40 C556.51,269.97 544.73,269.61 530.00,269.90 C511.80,270.25 489.33,270.97 469.00,271.50" fill="none" stroke="#000" stroke-width="2.4" stroke-linejoin="round" stroke-linecap="round"/>
<line x1="466.8" y1="2.5" x2="788" y2="2.5" stroke="#000" stroke-width="1.6"/>
<line x1="467.8" y1="1.7" x2="467.8" y2="293" stroke="#000" stroke-width="2.1"/>
<line x1="466.8" y1="292" x2="788" y2="292" stroke="#000" stroke-width="2.1"/>
<line x1="787" y1="1.7" x2="787" y2="293" stroke="#000" stroke-width="2.0"/>
<line x1="465.7" y1="291.80" x2="467.7" y2="291.80" stroke="#000" stroke-width="2.0"/>
<line x1="463.7" y1="255.60" x2="467.7" y2="255.60" stroke="#000" stroke-width="2.0"/>
<text x="460.2" y="260.40" font-size="14.5" font-weight="bold" text-anchor="end" transform="translate(460.2,0) scale(0.84,1) translate(-460.2,0)">0</text>
<line x1="465.7" y1="219.40" x2="467.7" y2="219.40" stroke="#000" stroke-width="2.0"/>
<line x1="463.7" y1="183.19" x2="467.7" y2="183.19" stroke="#000" stroke-width="2.0"/>
<text x="460.2" y="188.00" font-size="14.5" font-weight="bold" text-anchor="end" transform="translate(460.2,0) scale(0.84,1) translate(-460.2,0)">15</text>
<line x1="465.7" y1="146.99" x2="467.7" y2="146.99" stroke="#000" stroke-width="2.0"/>
<line x1="463.7" y1="110.79" x2="467.7" y2="110.79" stroke="#000" stroke-width="2.0"/>
<text x="460.2" y="115.59" font-size="14.5" font-weight="bold" text-anchor="end" transform="translate(460.2,0) scale(0.84,1) translate(-460.2,0)">30</text>
<line x1="465.7" y1="74.59" x2="467.7" y2="74.59" stroke="#000" stroke-width="2.0"/>
<line x1="463.7" y1="38.38" x2="467.7" y2="38.38" stroke="#000" stroke-width="2.0"/>
<text x="460.2" y="43.18" font-size="14.5" font-weight="bold" text-anchor="end" transform="translate(460.2,0) scale(0.84,1) translate(-460.2,0)">45</text>
<line x1="467.69" y1="292.0" x2="467.69" y2="294.0" stroke="#000" stroke-width="2.0"/>
<line x1="507.60" y1="292.0" x2="507.60" y2="296.0" stroke="#000" stroke-width="2.0"/>
<text x="507.60" y="311.5" font-size="14.5" font-weight="bold" text-anchor="middle" transform="translate(507.60,0) scale(0.84,1) translate(-507.60,0)">0.0</text>
<line x1="547.51" y1="292.0" x2="547.51" y2="294.0" stroke="#000" stroke-width="2.0"/>
<line x1="587.42" y1="292.0" x2="587.42" y2="296.0" stroke="#000" stroke-width="2.0"/>
<text x="587.42" y="311.5" font-size="14.5" font-weight="bold" text-anchor="middle" transform="translate(587.42,0) scale(0.84,1) translate(-587.42,0)">-0.2</text>
<line x1="627.33" y1="292.0" x2="627.33" y2="294.0" stroke="#000" stroke-width="2.0"/>
<line x1="667.24" y1="292.0" x2="667.24" y2="296.0" stroke="#000" stroke-width="2.0"/>
<text x="667.24" y="311.5" font-size="14.5" font-weight="bold" text-anchor="middle" transform="translate(667.24,0) scale(0.84,1) translate(-667.24,0)">-0.4</text>
<line x1="707.15" y1="292.0" x2="707.15" y2="294.0" stroke="#000" stroke-width="2.0"/>
<line x1="747.06" y1="292.0" x2="747.06" y2="296.0" stroke="#000" stroke-width="2.0"/>
<text x="747.06" y="311.5" font-size="14.5" font-weight="bold" text-anchor="middle" transform="translate(747.06,0) scale(0.84,1) translate(-747.06,0)">-0.6</text>
<line x1="786.97" y1="292.0" x2="786.97" y2="294.0" stroke="#000" stroke-width="2.0"/>
<rect x="469.2" y="3.7" width="66.19999999999999" height="72.5" fill="#fff" stroke="#bbb" stroke-width="0.9"/>
<line x1="471.1" y1="11.80" x2="493.7" y2="11.80" stroke="#000" stroke-width="2.2"/>
<text x="495.5" y="15.80" font-size="10.7" font-weight="normal" text-anchor="start" textLength="29.8" lengthAdjust="spacingAndGlyphs" >5 mV/s</text>
<line x1="471.1" y1="26.35" x2="493.7" y2="26.35" stroke="#f00" stroke-width="2.2"/>
<text x="495.5" y="30.35" font-size="10.7" font-weight="normal" text-anchor="start" textLength="34.8" lengthAdjust="spacingAndGlyphs" >10 mV/s</text>
<line x1="471.1" y1="40.90" x2="493.7" y2="40.90" stroke="#00f" stroke-width="2.2"/>
<text x="495.5" y="44.90" font-size="10.7" font-weight="normal" text-anchor="start" textLength="35.0" lengthAdjust="spacingAndGlyphs" >20 mV/s</text>
<line x1="471.1" y1="55.45" x2="493.7" y2="55.45" stroke="#008080" stroke-width="2.2"/>
<text x="495.5" y="59.45" font-size="10.7" font-weight="normal" text-anchor="start" textLength="34.8" lengthAdjust="spacingAndGlyphs" >50 mV/s</text>
<line x1="471.1" y1="70.00" x2="493.7" y2="70.00" stroke="#000" stroke-width="2.2"/>
<text x="495.5" y="74.00" font-size="10.7" font-weight="normal" text-anchor="start" textLength="39.9" lengthAdjust="spacingAndGlyphs" >100 mV/s</text>
<text x="772.9" y="17.0" font-size="13.5" font-weight="bold" text-anchor="start" textLength="9.6" lengthAdjust="spacingAndGlyphs" >b)</text>
<text x="561.6" y="336.6" font-size="15" font-weight="bold" text-anchor="start" textLength="132" lengthAdjust="spacingAndGlyphs" >Potentila(V vs Ag/AgCl)</text>
<g transform="translate(435.4,142.4) rotate(-90)"><text x="0" y="0" font-size="12.8" font-weight="bold" text-anchor="middle" textLength="74" lengthAdjust="spacingAndGlyphs">Current/μA</text></g>
</svg>
</body></html>
